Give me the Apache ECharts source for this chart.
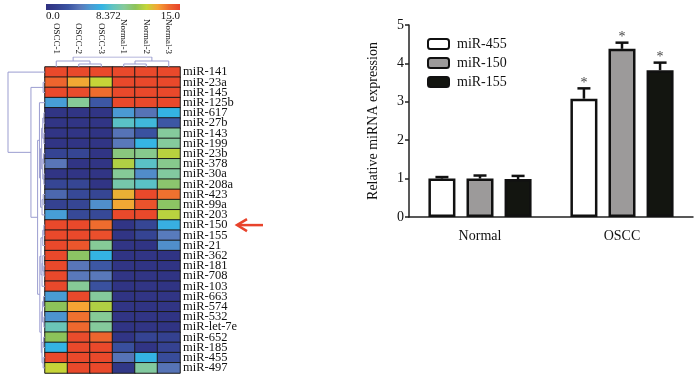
<!DOCTYPE html>
<html>
<head>
<meta charset="utf-8">
<script src="https://cdn.jsdelivr.net/npm/echarts@6/dist/echarts.min.js"></script>
<style>
html, body { margin: 0; padding: 0; background: #fff; }
#chart { width: 700px; height: 378px; }
</style>
</head>
<body>
<div id="chart"></div>
<script>
// heatmap
const sampleNames = ['OSCC-1', 'OSCC-2', 'OSCC-3', 'Normal-1', 'Normal-2', 'Normal-3']
const mirNames = ['miR-141', 'miR-23a', 'miR-145', 'miR-125b', 'miR-617', 'miR-27b', 'miR-143', 'miR-199',
  'miR-23b', 'miR-378', 'miR-30a', 'miR-208a', 'miR-423', 'miR-99a', 'miR-203', 'miR-150', 'miR-155',
  'miR-21', 'miR-362', 'miR-181', 'miR-708', 'miR-103', 'miR-663', 'miR-574', 'miR-532', 'miR-let-7e',
  'miR-652', 'miR-185', 'miR-455', 'miR-497']
const heatValues = [
  [14.8, 14.8, 14.8, 14.8, 14.8, 14.8],
  [13.9, 12.4, 11.3, 14.8, 14.8, 14.8],
  [14.8, 14.7, 13.7, 14.8, 14.8, 14.8],
  [5.2, 8.8, 2.6, 14.8, 14.8, 14.8],
  [0.4, 0.4, 0.4, 5.0, 3.6, 6.2],
  [0.4, 0.4, 0.4, 7.3, 6.6, 2.6],
  [0.4, 0.4, 0.3, 3.6, 2.4, 8.7],
  [0.4, 0.4, 0.4, 3.8, 6.3, 8.7],
  [1.5, 1.6, 0.4, 9.3, 9.0, 11.0],
  [3.7, 0.4, 0.4, 10.8, 7.3, 9.0],
  [0.4, 0.4, 0.4, 8.8, 4.5, 8.6],
  [1.6, 1.6, 0.4, 8.2, 7.3, 9.6],
  [3.2, 1.8, 1.6, 12.2, 14.8, 13.6],
  [1.4, 1.6, 4.6, 12.4, 14.5, 9.8],
  [5.2, 1.8, 1.8, 14.8, 14.8, 11.0],
  [14.8, 14.8, 13.7, 0.4, 1.6, 6.0],
  [14.8, 14.8, 14.6, 0.4, 1.5, 3.9],
  [14.8, 14.4, 8.8, 0.4, 0.3, 4.6],
  [14.8, 9.8, 6.2, 0.3, 0.4, 0.3],
  [14.8, 3.7, 2.6, 0.4, 0.3, 0.3],
  [14.8, 3.8, 3.8, 0.4, 0.4, 0.3],
  [14.8, 8.8, 2.3, 0.3, 0.4, 0.3],
  [5.1, 14.8, 8.7, 0.3, 0.4, 0.4],
  [10.0, 12.5, 10.8, 0.4, 0.3, 0.4],
  [4.8, 13.6, 8.8, 0.4, 0.4, 0.3],
  [7.8, 13.8, 8.7, 0.3, 0.4, 0.3],
  [10.0, 14.7, 13.9, 0.4, 1.5, 1.3],
  [6.2, 14.8, 14.8, 2.2, 0.4, 1.4],
  [14.8, 14.8, 14.8, 3.6, 6.2, 2.0],
  [11.3, 14.8, 14.8, 0.6, 8.6, 3.6]
]
// linkage: [left, right, height], ids >= leaf count point to earlier merges
const rowMerges = [
  [1, 2, 0.05], [4, 5, 0.03], [6, 7, 0.03], [31, 32, 0.06], [8, 9, 0.04], [10, 11, 0.03],
  [34, 35, 0.06], [33, 36, 0.09], [12, 13, 0.05], [38, 14, 0.08], [37, 39, 0.12], [3, 40, 0.15],
  [15, 16, 0.03], [42, 17, 0.06], [19, 20, 0.03], [18, 44, 0.06], [45, 21, 0.08], [43, 46, 0.11],
  [22, 23, 0.04], [24, 25, 0.03], [48, 49, 0.07], [26, 27, 0.04], [28, 29, 0.05], [51, 52, 0.08],
  [50, 53, 0.1], [47, 54, 0.14], [41, 55, 0.2], [30, 56, 0.38], [0, 57, 1.0]
]
const colMerges = [[1, 2, 0.3], [0, 6, 0.6], [3, 4, 0.3], [8, 5, 0.6], [7, 9, 1.0]]
const scaleMin = 0
const scaleMax = 15
const scaleTicks = [0, 8.372, 15]
const scaleTickLabels = ['0.0', '8.372', '15.0']

// bar chart
const groups = ['Normal', 'OSCC']
const seriesNames = ['miR-455', 'miR-150', 'miR-155']
const mir455 = [1.0, 3.08]
const mir150 = [1.0, 4.38]
const mir155 = [0.99, 3.82]
const mir455Err = [0.04, 0.27]
const mir150Err = [0.08, 0.16]
const mir155Err = [0.08, 0.2]
const mir455Sig = ['', '*']
const mir150Sig = ['', '*']
const mir155Sig = ['', '*']

const palette = ['#2f3080', '#34408f', '#3b54a2', '#5a77b9', '#4b9ad3', '#33b4e4', '#62c4c0',
  '#86ca9a', '#8dc35a', '#c4d638', '#f5a434', '#ee6a2e', '#e8432b']
const serif = 'Liberation Serif'
const dendroColor = '#9b9dd0'
const barWidth = 27
const barGap = 0.41

function dendroSegments(merges, n, vertical) {
  const pos = []
  const hgt = []
  for (let i = 0; i < n; i++) { pos.push(i + 0.5); hgt.push(0) }
  const segs = []
  merges.forEach(m => {
    const [a, b, h] = m
    const pts = [[hgt[a], pos[a]], [h, pos[a]], [h, pos[b]], [hgt[b], pos[b]]]
    segs.push({ coords: vertical ? pts.map(p => [p[1], p[0]]) : pts })
    pos.push((pos[a] + pos[b]) / 2)
    hgt.push(h)
  })
  return segs
}

const heatData = []
heatValues.forEach((row, r) => {
  row.forEach((v, c) => heatData.push([c, r, v]))
})

function errorBars(values, errors, marks, slot) {
  return {
    type: 'custom',
    xAxisIndex: 3,
    yAxisIndex: 3,
    silent: true,
    z: 4,
    data: values.map((v, i) => [i, v, errors[i]]),
    encode: { x: 0, y: 1 },
    renderItem: function(params, api) {
      const base = api.coord([api.value(0), api.value(1)])
      const top = api.coord([api.value(0), api.value(1) + api.value(2)])
      const x = base[0] + (slot - 1) * barWidth * (1 + barGap)
      return {
        type: 'group',
        children: [
          { type: 'line', shape: { x1: x, y1: base[1], x2: x, y2: top[1] }, style: { stroke: '#111', lineWidth: 2.5 } },
          { type: 'line', shape: { x1: x - 6.5, y1: top[1], x2: x + 6.5, y2: top[1] }, style: { stroke: '#111', lineWidth: 2.5 } },
          { type: 'text', style: { text: marks[params.dataIndex], x: x, y: top[1] + 2, align: 'center', verticalAlign: 'bottom', fontSize: 14, fontFamily: serif, fill: '#444' } }
        ]
      }
    }
  }
}

function barSeries(name, values, fill) {
  return {
    name: name,
    type: 'bar',
    xAxisIndex: 3,
    yAxisIndex: 3,
    barWidth: barWidth,
    barGap: (barGap * 100) + '%',
    data: values,
    itemStyle: { color: fill, borderColor: '#111', borderWidth: 2.5 },
    z: 2
  }
}

const chart = echarts.init(document.getElementById('chart'))
const barLeft = 409

chart.setOption({
  animation: false,
  grid: [
    { left: 45, top: 67, width: 135, height: 306, outerBoundsMode: 'none' },
    { left: 8, top: 67, width: 37, height: 306, outerBoundsMode: 'none' },
    { left: 45, top: 57, width: 135, height: 10, outerBoundsMode: 'none' },
    { left: barLeft, top: 25, width: 284, height: 192, outerBoundsMode: 'none' }
  ],
  xAxis: [
    {
      gridIndex: 0, type: 'category', position: 'top', data: sampleNames,
      axisLine: { show: false }, axisTick: { show: false },
      axisLabel: { interval: 0, rotate: 90, margin: 13, fontSize: 9, fontFamily: serif, color: '#111' }
    },
    { gridIndex: 1, type: 'value', min: 0, max: 1, inverse: true, show: false },
    { gridIndex: 2, type: 'value', min: 0, max: 6, show: false },
    {
      gridIndex: 3, type: 'category', data: groups,
      axisLine: { lineStyle: { color: '#222', width: 1.5 } },
      axisTick: { alignWithLabel: true, length: 5, lineStyle: { color: '#222', width: 1.5 } },
      axisLabel: { fontSize: 14, fontFamily: serif, color: '#111', margin: 12 }
    }
  ],
  yAxis: [
    {
      gridIndex: 0, type: 'category', data: mirNames, inverse: true, position: 'right',
      axisLine: { show: false }, axisTick: { show: false },
      axisLabel: { interval: 0, margin: 3, fontSize: 12.5, lineHeight: 10, fontFamily: serif, color: '#111' }
    },
    { gridIndex: 1, type: 'value', min: 0, max: 30, inverse: true, show: false },
    { gridIndex: 2, type: 'value', min: 0, max: 1, show: false },
    {
      gridIndex: 3, type: 'value', min: 0, max: 5, interval: 1,
      name: 'Relative miRNA expression', nameLocation: 'middle', nameGap: 29,
      nameTextStyle: { fontSize: 14, fontFamily: serif, color: '#111' },
      splitLine: { show: false },
      axisLine: { show: true, lineStyle: { color: '#222', width: 1.5 } },
      axisTick: { show: true, length: 4, lineStyle: { color: '#222', width: 1.5 } },
      axisLabel: { fontSize: 14, fontFamily: serif, color: '#111', margin: 5 }
    }
  ],
  visualMap: {
    show: false, min: scaleMin, max: scaleMax, seriesIndex: 0, dimension: 2,
    inRange: { color: palette }
  },
  legend: {
    data: seriesNames,
    orient: 'vertical',
    left: 427,
    top: 37,
    padding: 0,
    itemWidth: 21,
    itemHeight: 10,
    itemGap: 5,
    icon: 'roundRect',
    textStyle: { fontSize: 14, fontFamily: serif, color: '#111', padding: [0, 0, 0, 3] }
  },
  series: [
    {
      type: 'heatmap', xAxisIndex: 0, yAxisIndex: 0, data: heatData, silent: true,
      itemStyle: { borderColor: '#1a1a1a', borderWidth: 1 }
    },
    {
      type: 'lines', coordinateSystem: 'cartesian2d', xAxisIndex: 1, yAxisIndex: 1, polyline: true, silent: true,
      data: dendroSegments(rowMerges, mirNames.length, false),
      lineStyle: { color: dendroColor, width: 1, opacity: 1 }
    },
    {
      type: 'lines', coordinateSystem: 'cartesian2d', xAxisIndex: 2, yAxisIndex: 2, polyline: true, silent: true,
      data: dendroSegments(colMerges, sampleNames.length, true),
      lineStyle: { color: dendroColor, width: 1, opacity: 1 }
    },
    barSeries(seriesNames[0], mir455, '#ffffff'),
    barSeries(seriesNames[1], mir150, '#9c9a9a'),
    barSeries(seriesNames[2], mir155, '#131510'),
    errorBars(mir455, mir455Err, mir455Sig, 0),
    errorBars(mir150, mir150Err, mir150Sig, 1),
    errorBars(mir155, mir155Err, mir155Sig, 2)
  ]
})

// colour scale bar and the arrow pointing at miR-150
const barX = 46
const barW = 134
const scaleGraphics = [{
  type: 'rect',
  shape: { x: barX, y: 4, width: barW, height: 6 },
  style: {
    fill: new echarts.graphic.LinearGradient(0, 0, 1, 0,
      palette.map((c, i) => ({ offset: i / (palette.length - 1), color: c })))
  }
}]
scaleTicks.forEach((v, i) => {
  const x = barX + (v - scaleMin) / (scaleMax - scaleMin) * barW
  scaleGraphics.push({
    type: 'text',
    style: {
      text: scaleTickLabels[i], x: x, y: 11,
      align: i === 0 ? 'left' : 'right', verticalAlign: 'top',
      fontSize: 11, fontFamily: serif, fill: '#111'
    }
  })
})
const arrowY = chart.convertToPixel({ xAxisIndex: 0, yAxisIndex: 0 }, [5, 'miR-150'])[1]
scaleGraphics.push({
  type: 'polyline',
  shape: { points: [[263, arrowY], [238, arrowY]] },
  style: { stroke: '#e8432b', lineWidth: 2.5 }
})
scaleGraphics.push({
  type: 'polyline',
  shape: { points: [[247, arrowY - 6], [237, arrowY], [247, arrowY + 6]] },
  style: { stroke: '#e8432b', lineWidth: 2.5, fill: null }
})
chart.setOption({ graphic: scaleGraphics })

window.addEventListener('resize', () => {
  chart.resize()
})
</script>
</body>
</html>
